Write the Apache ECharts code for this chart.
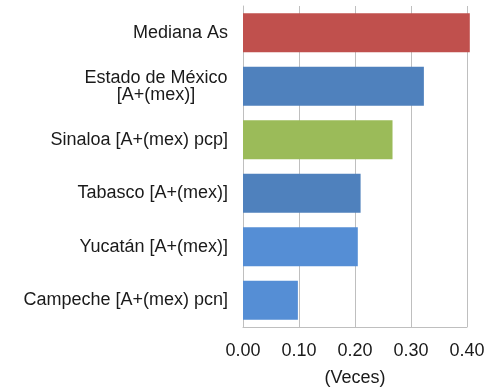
<!DOCTYPE html>
<html>
<head>
<meta charset="utf-8">
<script src="https://cdn.jsdelivr.net/npm/echarts@6/dist/echarts.min.js"></script>
<style>
  html, body { margin: 0; padding: 0; background: #fff; }
  #chart { width: 485px; height: 387px; }
</style>
</head>
<body>
<div id="chart"></div>
<script>
// datos
const categories = [
  'Mediana As',
  'Estado de México\n[A+(mex)]',
  'Sinaloa [A+(mex) pcp]',
  'Tabasco [A+(mex)]',
  'Yucatán [A+(mex)]',
  'Campeche [A+(mex) pcn]'
];
const values = [0.405, 0.323, 0.267, 0.210, 0.205, 0.098];
const barColors = ['#C0504D', '#4F81BD', '#9BBB59', '#4F81BD', '#558ED5', '#558ED5'];
const xTicks = [0, 0.1, 0.2, 0.3, 0.4];

const FONT = 'Liberation Sans';
const FS = 18;

// ancho del texto para centrar las etiquetas de dos lineas
const ctx = document.createElement('canvas').getContext('2d');
ctx.font = FS + 'px "' + FONT + '"';
const textWidth = s => Math.ceil(ctx.measureText(s).width);

const chart = echarts.init(document.getElementById('chart'));

const option = {
  animation: false,
  grid: { left: 243, right: 18, top: 6, bottom: 60, containLabel: false, outerBoundsMode: 'none' },
  xAxis: {
    type: 'value',
    min: xTicks[0],
    max: xTicks[xTicks.length - 1],
    interval: 0.1,
    name: '(Veces)',
    nameLocation: 'middle',
    nameGap: 42,
    nameTextStyle: { fontFamily: FONT, fontSize: FS, color: '#1a1a1a' },
    axisLine: { show: true, lineStyle: { color: '#BFBFBF', width: 1 } },
    axisTick: { show: false },
    axisLabel: {
      margin: 15,
      fontFamily: FONT,
      fontSize: FS,
      color: '#1a1a1a',
      formatter: v => v.toFixed(2)
    },
    splitLine: { show: true, lineStyle: { color: '#BFBFBF', width: 1 } }
  },
  yAxis: {
    type: 'category',
    data: categories,
    inverse: true,
    axisLine: { show: true, lineStyle: { color: '#BFBFBF', width: 1 } },
    axisTick: { show: false },
    axisLabel: {
      margin: 15,
      fontFamily: FONT,
      fontSize: FS,
      color: '#1a1a1a',
      lineHeight: 17,
      formatter: function (v) {
        if (v.indexOf('\n') >= 0) {
          const lines = v.split('\n');
          const w = Math.max(...lines.map(textWidth));
          return lines.map(s => '{c' + w + '|' + s + '}').join('\n');
        }
        return v;
      },
      rich: (function () {
        const r = {};
        categories.filter(c => c.indexOf('\n') >= 0).forEach(c => {
          const w = Math.max(...c.split('\n').map(textWidth));
          r['c' + w] = { align: 'center', width: w, fontFamily: FONT, fontSize: FS, color: '#1a1a1a', lineHeight: 17 };
        });
        return r;
      })()
    }
  },
  series: [{
    type: 'bar',
    clip: false,
    barCategoryGap: '27%',
    data: values.map((v, i) => ({ value: v, itemStyle: { color: barColors[i] } }))
  }]
};

chart.setOption(option);
</script>
</body>
</html>
